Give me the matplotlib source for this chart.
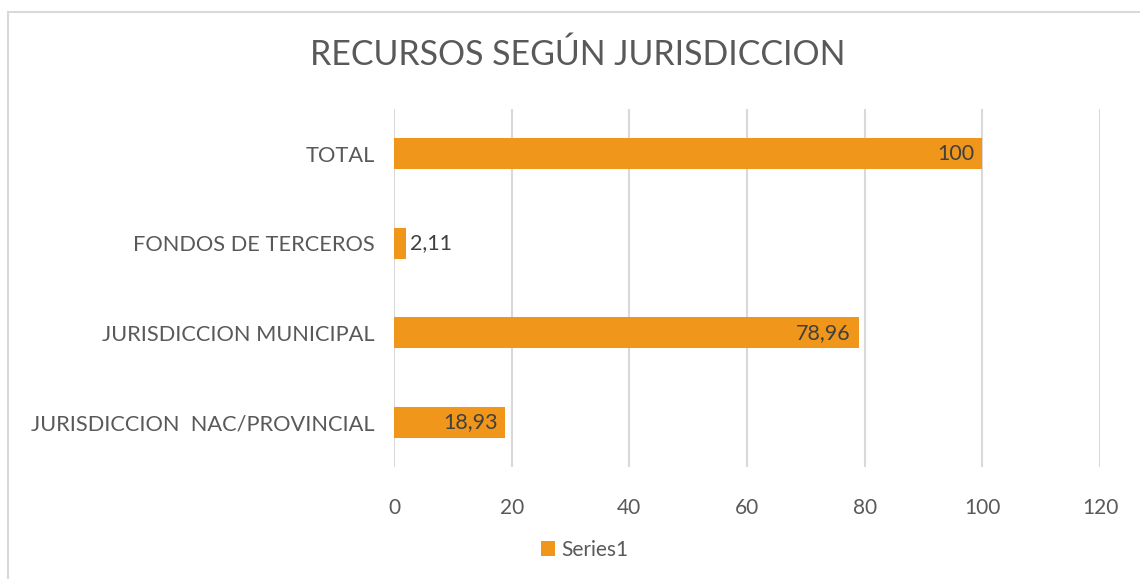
import matplotlib.pyplot as plt
from matplotlib.patches import Rectangle

categorias = ['JURISDICCION  NAC/PROVINCIAL', 'JURISDICCION MUNICIPAL',
              'FONDOS DE TERCEROS', 'TOTAL']
valores = [18.93, 78.96, 2.11, 100]
etiquetas = ['18,93', '78,96', '2,11', '100']
xticks = [0, 20, 40, 60, 80, 100, 120]

naranja = '#F0961A'
gris = '#595959'

plt.rcParams['font.family'] = ['Lato', 'DejaVu Sans']

fig = plt.figure(figsize=(11.4, 5.79), dpi=100)
# marco del grafico (cortado abajo y a la derecha)
fig.patches.append(Rectangle((8 / 1140, -0.05), 1.2, 1.05 - 12 / 579, transform=fig.transFigure,
                             fill=False, edgecolor='#D9D9D9', linewidth=1.5))

ax = fig.add_axes([394 / 1140, 1 - 467 / 579, (1100 - 394) / 1140, (467 - 109) / 579])
pos = range(len(categorias))
barras = ax.barh(pos, valores, height=0.35, color=naranja, label='Series1', zorder=3)

for b, v, t in zip(barras, valores, etiquetas):
    y = b.get_y() + b.get_height() / 2
    if v > 10:
        ax.text(v - 1.3, y, t, ha='right', va='center', fontsize=15.5, color='#404040', zorder=4)
    else:
        ax.text(v + 0.6, y, t, ha='left', va='center', fontsize=15.5, color='#404040', zorder=4)

ax.set_xlim(0, 120)
ax.set_ylim(-0.5, len(categorias) - 0.5)
ax.set_xticks(xticks)
ax.set_yticks(list(pos))
ax.set_yticklabels(categorias)
ax.grid(axis='x', color='#D9D9D9', linewidth=1.5, zorder=0)
for s in ax.spines.values():
    s.set_visible(False)
ax.tick_params(axis='both', length=0, labelsize=15, colors=gris)
ax.tick_params(axis='y', labelsize=15.7, pad=14)
ax.tick_params(axis='x', pad=22)

fig.text(0.507, 1 - 55 / 579, 'RECURSOS SEGÚN JURISDICCION', ha='center', va='center',
         fontsize=24.4, color=gris)

fig.legend(handles=[barras], labels=['Series1'], loc='center', bbox_to_anchor=(0.513, 1 - 550 / 579),
           frameon=False, fontsize=15, handlelength=0.7, handleheight=0.7, handletextpad=0.3,
           labelcolor=gris)

fig.savefig('out.png', dpi=100)
